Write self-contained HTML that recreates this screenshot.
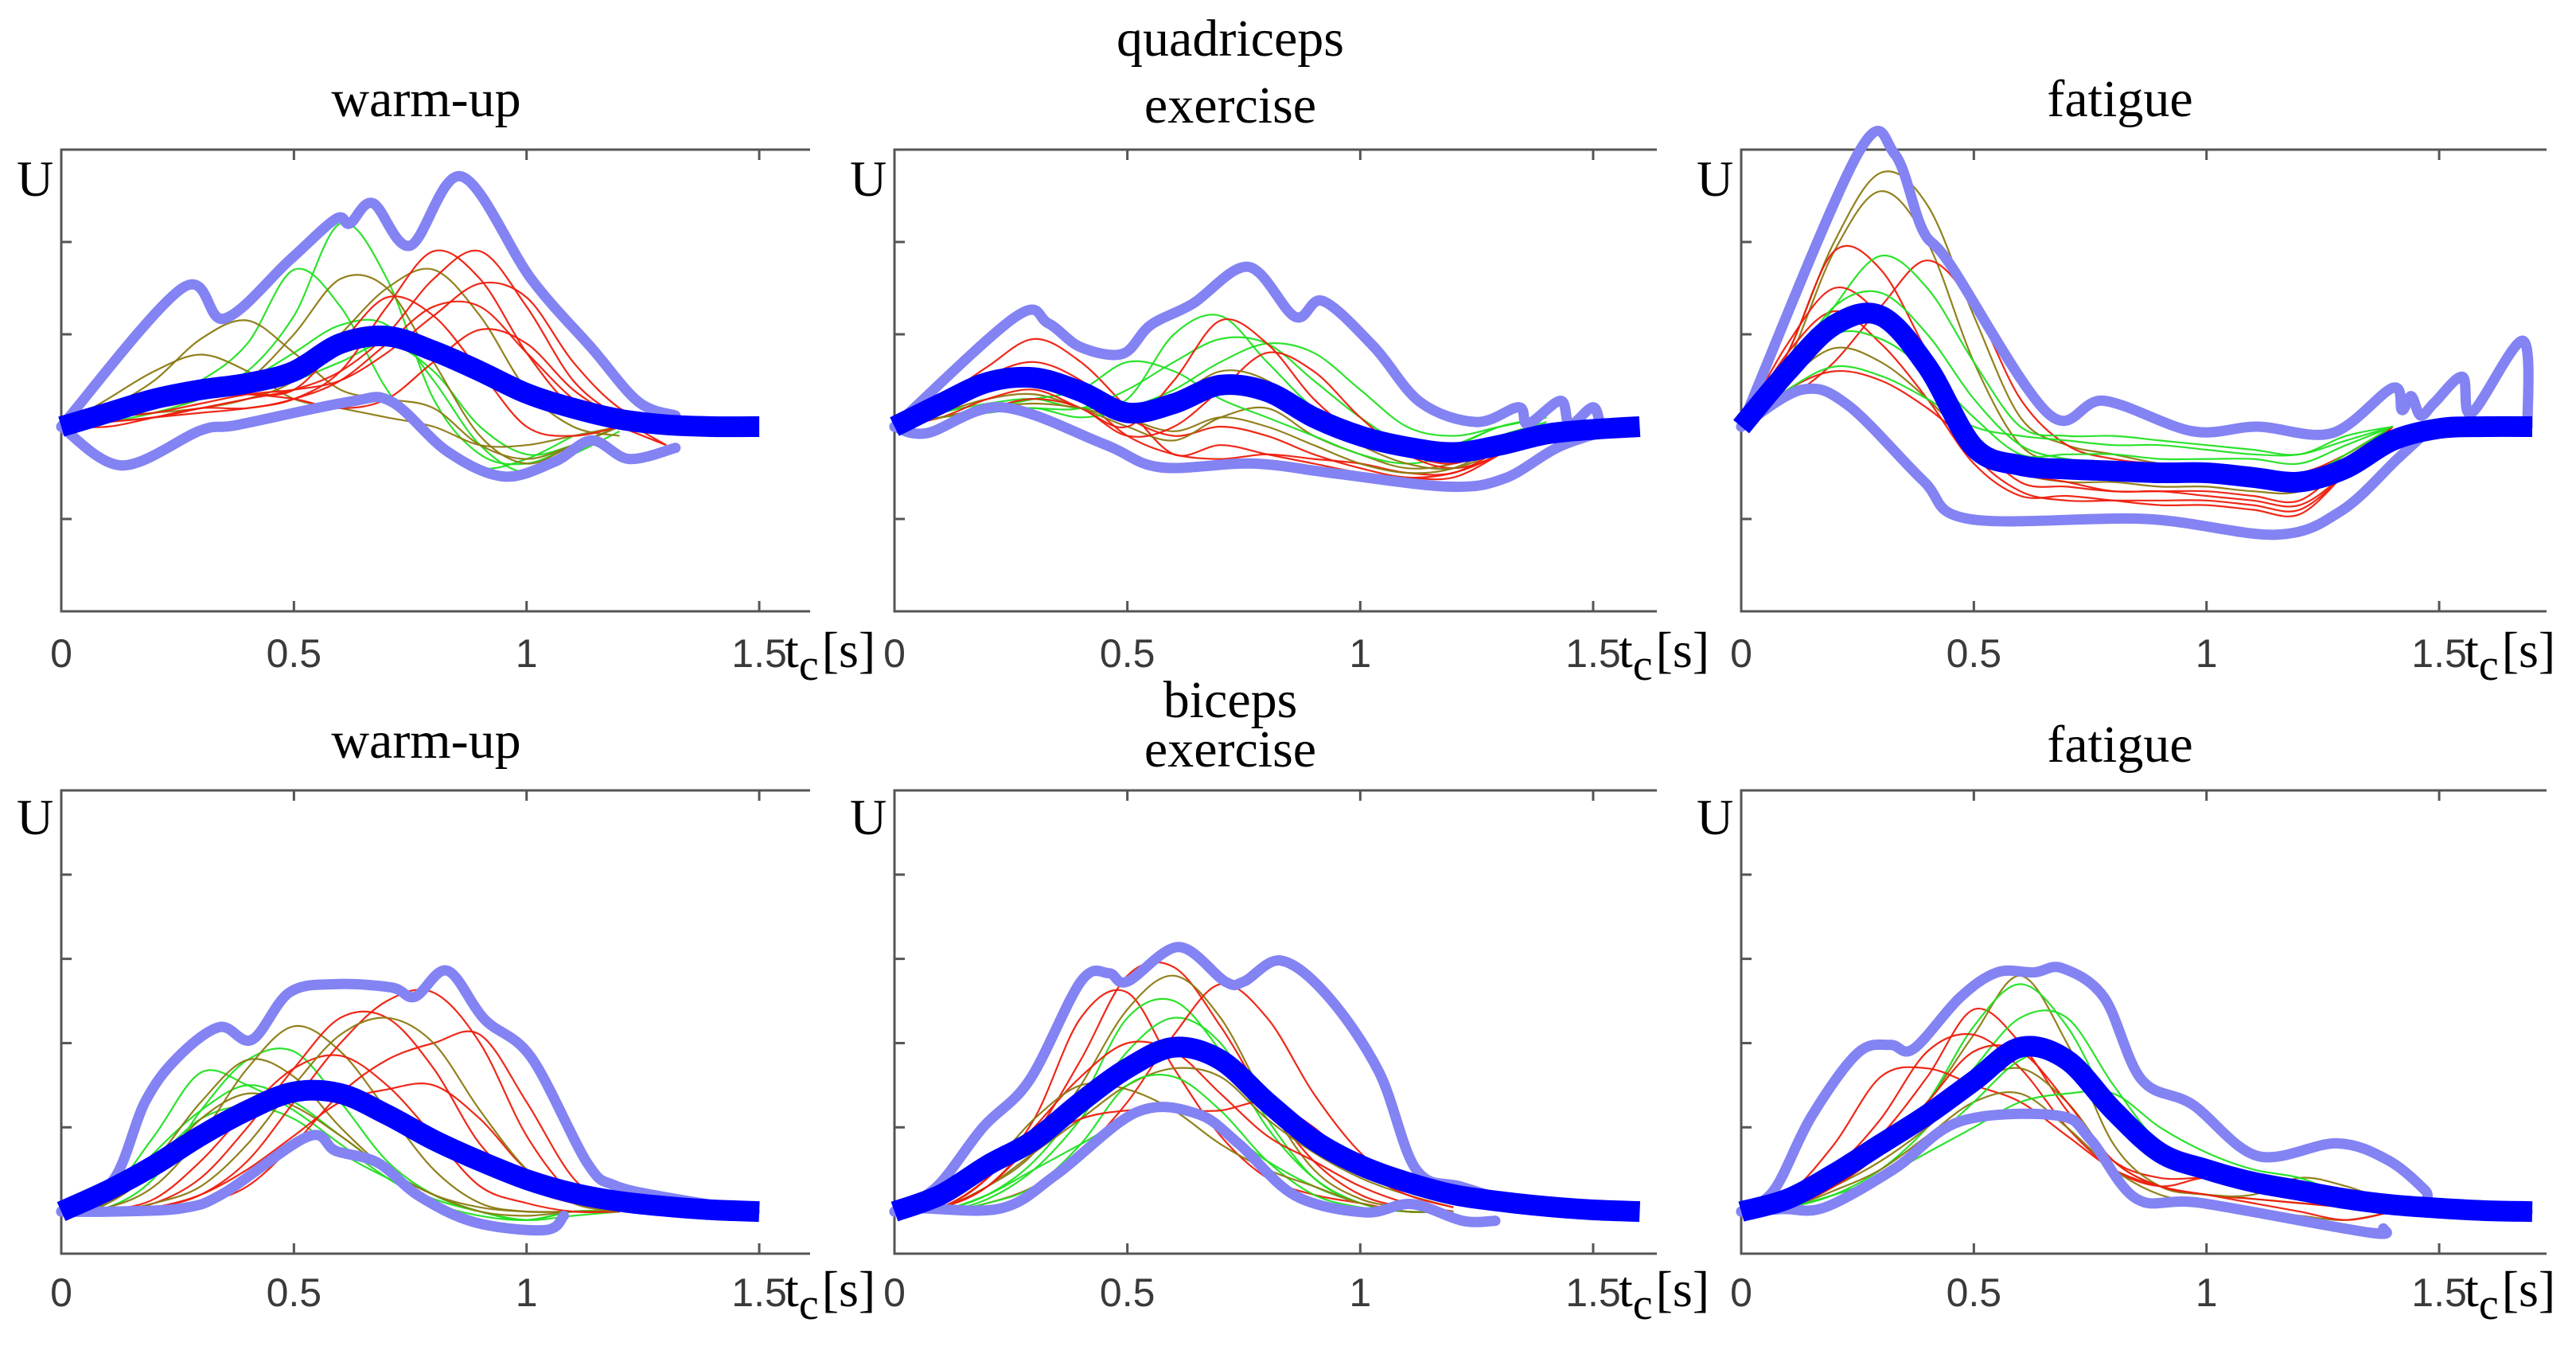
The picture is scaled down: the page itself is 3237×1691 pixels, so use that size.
<!DOCTYPE html>
<html><head><meta charset="utf-8"><style>
html,body{margin:0;padding:0;background:#fff;}
svg{display:block;}
.ttl{font-family:"Liberation Serif",serif;font-size:66px;fill:#000;text-anchor:middle;}
.tick{font-family:"Liberation Sans",sans-serif;font-size:50px;fill:#3a3a3a;text-anchor:middle;}
.ser{font-family:"Liberation Serif",serif;font-size:64px;fill:#000;}
</style></head><body>
<svg id="fig" width="3237" height="1691" viewBox="0 0 3237 1691" xmlns="http://www.w3.org/2000/svg">
<text class="ttl" x="1546" y="70">quadriceps</text>
<text class="ttl" x="1546" y="901">biceps</text>
</svg>
<script>
// ---------- data (time in s, amplitude in tick units) ----------
const panelTitles = ["warm-up","exercise","fatigue","warm-up","exercise","fatigue"];
const xTickLabels = ["0","0.5","1","1.5"];
const xTickValues = [0,0.5,1,1.5];
const yTicksTop = [-1,0,1,2];
const yTicksBottom = [1,2,3,4];
const gridStep = 0.1;

// Panel 1: quadriceps warm-up
const p1Mean = [0,.15,.3,.4,.47,.6,.9,.98,.82,.6,.36,.2,.08,.02,0,0];
const p1UpT = [0,.26,.35,.49,.59,.62,.67,.75,.86,1.01,1.14,1.24,1.32];
const p1UpY = [0,1.5,1.17,1.8,2.25,2.2,2.42,1.96,2.71,1.6,.85,.27,.12];
const p1LoT = [0,.13,.3,.38,.62,.71,.83,.95,1.06,1.14,1.22,1.32];
const p1LoY = [0,-.42,-.04,.02,.27,.27,-.27,-.54,-.38,-.15,-.35,-.23];
const p1Thin = [
 [0,.1,.2,.35,.6,1.2,2.2,1.6,.3,-.3,-.4,-.2,0],
 [0,.1,.3,.5,.9,1.7,1.3,.4,-.2,-.45,-.35,-.1],
 [0,.05,.15,.3,.5,.8,1.1,1.1,.5,-.2,-.5,-.3,-.05],
 [0,.1,.2,.3,.4,.5,.7,.9,.6,0,-.3,-.2,0],
 [0,.3,.6,.78,.6,.3,.2,.1,0,-.2,-.2,-.1,0],
 [0,.2,.5,.95,1.15,.8,.4,.3,.2,-.2,-.35,-.2,0],
 [0,.1,.2,.3,.5,1.0,1.6,1.5,.7,-.1,-.4,-.2,0],
 [0,.1,.15,.2,.3,.5,1.0,1.5,1.7,1.2,.4,0,-.1],
 [0,.05,.1,.15,.2,.3,.6,1.3,1.9,1.6,.8,.2,0,-.2],
 [0,.05,.1,.2,.3,.4,.6,1.0,1.6,1.9,1.3,.5,.1,-.2],
 [0,.1,.15,.25,.35,.4,.5,.8,1.2,1.55,1.4,.7,.2,0],
 [0,.1,.2,.35,.35,.3,.2,.3,.7,1.05,.9,.4,.1,0],
 [0,.15,.3,.35,.35,.4,.9,1.4,1.2,.6,0,-.1,0],
 [0,0,.1,.2,.2,.3,.5,.9,1.3,1.3,.8,.3,0]
];
const p1Col = ["g","g","g","g","o","o","o","o","r","r","r","r","r","r"];

// Panel 2: quadriceps exercise
const p2Mean = [0,.25,.48,.53,.38,.15,.25,.45,.38,.1,-.1,-.22,-.28,-.2,-.08,-.03,0];
const p2UpT = [0,.26,.33,.4,.49,.55,.64,.76,.86,.92,1.03,1.13,1.25,1.34,1.36,1.43,1.45,1.5,1.52,1.56];
const p2UpY = [0,1.19,1.12,.86,.79,1.1,1.33,1.73,1.19,1.36,.86,.26,.05,.21,.03,.28,.02,.21,.0,0];
const p2LoT = [0,.07,.23,.45,.57,.77,.95,1.19,1.31,1.43,1.56];
const p2LoY = [0,-.07,.21,-.19,-.44,-.4,-.51,-.65,-.56,-.21,0];
const p2Thin = [
 [0,.3,.65,.95,.7,.2,-.3,-.2,-.3,-.4,-.5,-.55,-.55,-.3,0],
 [0,.25,.55,.7,.5,.1,-.1,0,-.1,-.3,-.45,-.55,-.5,-.3,0],
 [0,.2,.4,.45,.3,-.1,-.3,-.35,-.3,-.35,-.4,-.5,-.5,-.25,0],
 [0,.2,.4,.5,.35,.1,-.05,.1,0,-.2,-.4,-.5,-.45,-.2,0],
 [0,.15,.3,.35,.2,0,-.15,.1,.2,-.1,-.3,-.45,-.4,-.2,0],
 [0,.15,.25,.3,.2,.3,1.0,1.2,.7,.2,-.1,-.3,-.2,0,.1],
 [0,.1,.2,.2,.2,.4,.7,.95,.9,.5,.1,-.2,-.2,0,.1],
 [0,.1,.15,.2,.1,.2,.4,.7,.9,.8,.4,0,-.1,0,.1],
 [0,.1,.2,.3,.4,.7,.6,.3,.1,-.1,-.3,-.4,-.3,-.1,.05],
 [0,.1,.3,.4,.2,0,.5,1.15,.9,.3,-.1,-.3,-.4,-.2,0],
 [0,.1,.2,.3,.2,-.1,0,.4,.8,.6,.1,-.3,-.45,-.3,0],
 [0,.1,.2,.25,.2,.1,.3,.6,.5,.1,-.2,-.4,-.45,-.25,0]
];
const p2Col = ["r","r","r","o","o","g","g","g","g","r","r","o"];

// Panel 3: quadriceps fatigue
const p3Mean = [0,.6,1.1,1.2,.65,-.22,-.42,-.46,-.48,-.5,-.5,-.55,-.6,-.45,-.15,-.02,0,0];
const p3UpT = [0,.25,.33,.39,.45,.66,.78,.97,1.11,1.27,1.4,1.42,1.44,1.46,1.49,1.55,1.57,1.68,1.69];
const p3UpY = [0,2.95,2.95,2.13,1.75,.14,.28,-.05,0,-.07,.42,.18,.33,.12,.26,.54,.15,.93,0];
const p3LoT = [0,.13,.23,.39,.49,.87,1.15,1.29,1.41,1.47];
const p3LoY = [0,.4,.23,-.58,-1.0,-1.0,-1.17,-.91,-.35,-.07];
const p3Thin = [
 [0,.8,2.0,2.75,2.4,1.2,.1,-.2,-.3,-.4,-.45,-.5,-.6,-.3,0],
 [0,.7,1.9,2.55,2.0,.7,-.2,-.4,-.5,-.55,-.6,-.6,-.7,-.4,0],
 [0,.8,1.9,1.7,.8,-.1,-.6,-.65,-.7,-.7,-.7,-.75,-.8,-.4,0],
 [0,.3,.7,1.3,1.8,1.3,.3,-.2,-.35,-.4,-.4,-.45,-.5,-.3,0],
 [0,.5,1.3,1.85,1.5,.7,0,-.1,-.1,-.15,-.2,-.25,-.3,-.1,0],
 [0,.9,1.5,1.2,.5,-.3,-.7,-.8,-.8,-.8,-.8,-.85,-.9,-.5,0],
 [0,.8,1.25,.9,.3,-.4,-.75,-.75,-.8,-.85,-.85,-.9,-.95,-.5,0],
 [0,.6,1.3,1.45,1.0,.3,-.2,-.35,-.4,-.45,-.45,-.5,-.55,-.3,0],
 [0,.5,1.0,.95,.6,.1,-.3,-.3,-.3,-.35,-.35,-.35,-.4,-.2,0],
 [0,.5,.85,.7,.3,-.2,-.5,-.6,-.6,-.65,-.65,-.7,-.7,-.4,0],
 [0,.4,.6,.5,.2,-.2,-.5,-.6,-.7,-.7,-.75,-.8,-.85,-.5,0],
 [0,.4,.65,.55,.3,0,-.1,-.15,-.2,-.2,-.25,-.3,-.3,-.15,0]
];
const p3Col = ["o","o","r","r","g","r","r","g","g","o","r","g"];

// Panel 4: biceps warm-up
const p4Mean = [0,.25,.55,.9,1.2,1.42,1.4,1.15,.85,.6,.38,.22,.12,.06,.02,0];
const p4UpT = [0,.11,.18,.25,.34,.41,.49,.59,.71,.76,.83,.91,1.01,1.13,1.19,1.31,1.49];
const p4UpY = [0,.36,1.3,1.83,2.19,2.04,2.6,2.7,2.66,2.55,2.86,2.28,1.83,.58,.31,.16,0];
const p4LoT = [0,.11,.26,.35,.53,.59,.68,.77,.89,1.04,1.08];
const p4LoY = [0,0,.04,.22,.89,.72,.58,.18,-.13,-.22,-.05];
const p4Thin = [
 [0,.05,.4,1.2,1.8,1.9,1.3,.6,.2,0,-.1,-.05,0],
 [0,.2,.9,1.65,1.5,1.2,.8,.4,.1,-.05,-.1,0,0],
 [0,.1,.7,1.2,1.5,1.3,.9,.5,.2,0,-.1,0,0],
 [0,.1,.6,1.1,1.25,1.1,.7,.4,.15,0,-.1,0,0],
 [0,.05,.3,.9,1.7,2.2,1.9,1.2,.5,.1,0,0,0],
 [0,.1,.6,1.3,1.8,1.6,1.0,.5,.2,0,-.05,0,0],
 [0,.1,.5,1.1,1.4,1.25,.9,.5,.2,.05,0,0,0],
 [0,0,.05,.2,.6,1.3,2.0,2.5,2.6,2.0,.9,.2,0],
 [0,0,.05,.1,.3,.8,1.4,1.8,2.0,2.1,1.3,.4,0],
 [0,.02,.1,.4,1.0,1.7,2.3,2.3,1.7,.8,.3,.1,0],
 [0,0,.05,.2,.5,.9,1.3,1.45,1.5,1.1,.5,.2,0],
 [0,.02,.15,.6,1.2,1.7,1.85,1.5,.9,.3,.1,0,0],
 [0,0,.1,.3,.8,1.5,2.1,2.3,2.0,1.2,.5,.1,0]
];
const p4Col = ["g","g","g","g","o","o","o","r","r","r","r","r","o"];

// Panel 5: biceps exercise
const p5Mean = [0,.2,.55,.85,1.3,1.7,1.95,1.8,1.3,.85,.55,.35,.2,.12,.06,.02,0];
const p5UpT = [0,.09,.19,.29,.4,.46,.5,.61,.71,.75,.83,.93,1.04,1.12,1.22,1.37,1.56];
const p5UpY = [0,.29,1.0,1.56,2.73,2.83,2.73,3.14,2.73,2.73,2.98,2.56,1.66,.5,.29,.07,0];
const p5LoT = [0,.05,.23,.35,.52,.65,.74,.86,1.01,1.11,1.22,1.29];
const p5LoY = [0,.04,.04,.45,1.18,1.16,.8,.19,-.01,.09,-.11,-.11];
const p5Thin = [
 [0,.05,.4,1.1,2.3,2.6,1.7,.9,.4,.2,.1,0,0],
 [0,.05,.3,.9,1.8,2.8,2.9,2.2,1.3,.6,.2,.05,0],
 [0,.05,.3,.7,1.5,2.4,2.8,2.3,1.3,.5,.15,.05,0],
 [0,.02,.2,.6,1.3,2.3,2.5,1.9,1.0,.4,.1,0,0],
 [0,0,.15,.5,1.1,1.9,2.3,2.0,1.1,.4,.1,0,0],
 [0,0,.1,.3,.7,1.3,2.1,2.7,2.3,1.4,.7,.3,.1],
 [0,.05,.4,1.0,1.6,2.0,1.9,1.4,.9,.6,.3,.1,0],
 [0,.05,.3,.7,1.1,1.5,1.7,1.6,1.1,.7,.4,.2,.05],
 [0,0,.1,.3,.8,1.5,1.6,1.2,.6,.2,.05,0,0],
 [0,.02,.2,.5,.8,1.1,1.2,1.0,.6,.3,.1,0,0],
 [0,.05,.3,.8,1.1,1.2,1.2,1.2,1.3,1.0,.5,.2,.05],
 [0,.1,.5,1.1,1.5,1.45,1.2,.8,.5,.3,.1,0,0]
];
const p5Col = ["r","r","o","g","g","r","r","o","g","g","r","o"];

// Panel 6: biceps fatigue
const p6Mean = [0,.15,.45,.8,1.15,1.55,1.95,1.8,1.2,.7,.5,.35,.25,.15,.08,.04,.01,0];
const p6UpT = [0,.07,.15,.25,.32,.37,.47,.55,.63,.69,.78,.86,.97,1.11,1.28,1.39,1.47,1.49,1.69];
const p6UpY = [0,.25,1.12,1.88,1.98,1.93,2.54,2.84,2.84,2.89,2.54,1.57,1.27,.66,.81,.61,.25,.05,0];
const p6LoT = [0,.09,.18,.33,.47,.68,.75,.85,.99,1.35,1.38];
const p6LoY = [0,.03,.05,.51,1.07,1.14,.86,.15,.1,-.25,-.2];
const p6Thin = [
 [0,.1,.4,.9,1.6,2.4,2.0,1.2,.6,.4,.4,.35,.3,.15,.05],
 [0,.05,.3,.7,1.3,2.1,2.8,2.0,.8,.3,.2,.15,.1,.05,0],
 [0,.05,.3,.7,1.3,2.2,2.7,2.2,1.2,.6,.4,.3,.2,.1,0],
 [0,.05,.2,.5,1.0,1.7,2.3,2.3,1.5,.8,.5,.35,.25,.15,.05],
 [0,.2,.8,1.6,1.7,1.5,1.3,.9,.5,.3,.2,.15,.1,.05,0],
 [0,.1,.5,1.1,1.9,2.1,1.7,1.0,.5,.3,.4,.3,.2,.1,0],
 [0,.05,.3,.6,1.0,1.5,1.7,1.3,.6,.3,.2,.2,.4,.3,.1],
 [0,.05,.25,.5,.9,1.3,1.4,1.0,.5,.2,.1,0,-.05,-.1,0],
 [0,.05,.2,.4,.8,1.3,1.8,1.9,1.3,.8,.6,.4,.3,.2,.1],
 [0,.05,.3,.7,1.3,1.9,1.9,1.3,.6,.3,.2,.1,0,-.1,0],
 [0,.05,.2,.4,.7,1.0,1.3,1.4,1.4,1.0,.7,.5,.4,.2,.1]
];
const p6Col = ["r","o","g","g","r","r","o","o","g","r","g"];

// ---------- layout ----------
const cols = [{x0:77,pps:584.7,right:1018},{x0:1124,pps:585.3,right:2082},{x0:2188,pps:584.7,right:3200}];
const rows = [{top:188,bottom:768,ymin:-2,ymax:3,titleY:146,labY:838,uY:246},
              {top:993,bottom:1575,ymin:-0.5,ymax:5,titleY:952,labY:1641,uY:1048}];
const titleYOverride = {1:154, 4:963, 3:952, 5:957, 2:146};
const colorMap = {r:"#ee1c0c", o:"#8c7a12", g:"#22e022"};

const svg = document.getElementById('fig');
const NS = "http://www.w3.org/2000/svg";
function mk(tag, attrs){ const e=document.createElementNS(NS,tag); for(const k in attrs) e.setAttribute(k,attrs[k]); return e; }

function smoothPath(pts){
  if(pts.length<2) return "";
  let d = "M"+pts[0][0].toFixed(1)+","+pts[0][1].toFixed(1);
  for(let i=0;i<pts.length-1;i++){
    const p0=pts[Math.max(0,i-1)], p1=pts[i], p2=pts[i+1], p3=pts[Math.min(pts.length-1,i+2)];
    const c1x=p1[0]+(p2[0]-p0[0])/6, c1y=p1[1]+(p2[1]-p0[1])/6;
    const c2x=p2[0]-(p3[0]-p1[0])/6, c2y=p2[1]-(p3[1]-p1[1])/6;
    d+=" C"+c1x.toFixed(1)+","+c1y.toFixed(1)+" "+c2x.toFixed(1)+","+c2y.toFixed(1)+" "+p2[0].toFixed(1)+","+p2[1].toFixed(1);
  }
  return d;
}

const panels = [
 {mean:p1Mean,upT:p1UpT,upY:p1UpY,loT:p1LoT,loY:p1LoY,thin:p1Thin,col:p1Col},
 {mean:p2Mean,upT:p2UpT,upY:p2UpY,loT:p2LoT,loY:p2LoY,thin:p2Thin,col:p2Col},
 {mean:p3Mean,upT:p3UpT,upY:p3UpY,loT:p3LoT,loY:p3LoY,thin:p3Thin,col:p3Col},
 {mean:p4Mean,upT:p4UpT,upY:p4UpY,loT:p4LoT,loY:p4LoY,thin:p4Thin,col:p4Col},
 {mean:p5Mean,upT:p5UpT,upY:p5UpY,loT:p5LoT,loY:p5LoY,thin:p5Thin,col:p5Col},
 {mean:p6Mean,upT:p6UpT,upY:p6UpY,loT:p6LoT,loY:p6LoY,thin:p6Thin,col:p6Col}
];

panels.forEach((P,idx)=>{
  const C = cols[idx%3], R = rows[Math.floor(idx/3)];
  const xs = t => C.x0 + t*C.pps;
  const ys = v => R.bottom - (v-R.ymin)/(R.ymax-R.ymin)*(R.bottom-R.top);
  const g = mk('g',{});
  
  
  svg.appendChild(g);

  const tt = mk('text',{class:'ttl',x:(C.x0+C.right)/2+ (idx%3===0?-12:(idx%3===1?-57:-30)),y:titleYOverride[idx]!==undefined?titleYOverride[idx]:R.titleY});
  tt.textContent = panelTitles[idx];
  
  
  g.appendChild(tt);

  const ax = mk('path',{d:`M${C.right},${R.top} H${C.x0} V${R.bottom} H${C.right}`,fill:'none',stroke:'#555',"stroke-width":3});
  
  
  g.appendChild(ax);
  xTickValues.forEach((v,i)=>{
    const x = xs(v);
    if(v>0){
      const t1 = mk('path',{d:`M${x},${R.bottom} v-13 M${x},${R.top} v13`,stroke:'#555',"stroke-width":3});
      
      
      g.appendChild(t1);
    }
    const lab = mk('text',{class:'tick',x:x,y:R.labY});
    lab.textContent = xTickLabels[i];
    
    
    g.appendChild(lab);
  });
  (idx<3?yTicksTop:yTicksBottom).forEach(v=>{
    const y = ys(v);
    const t2 = mk('path',{d:`M${C.x0},${y} h13`,stroke:'#555',"stroke-width":3});
    
    
    g.appendChild(t2);
  });
  const u = mk('text',{class:'ser',x:C.x0-56,y:R.uY,"font-size":68});
  u.textContent = "U";
  
  
  g.appendChild(u);
  const xt = mk('text',{class:'ser',x:xs(1.5)+32,y:R.labY});
  
  
  const s1=mk('tspan',{}); s1.textContent="t";
  const s2=mk('tspan',{dy:16,"font-size":56}); s2.textContent="c";
  const s3=mk('tspan',{dy:-16,dx:4}); s3.textContent="[s]";
  xt.appendChild(s1); xt.appendChild(s2); xt.appendChild(s3);
  g.appendChild(xt);

  P.thin.forEach((arr,k)=>{
    const pts = arr.map((v,i)=>[xs(i*gridStep), ys(v)]);
    const p = mk('path',{d:smoothPath(pts),fill:'none',stroke:colorMap[P.col[k]],"stroke-width":2.2,opacity:0.95});
    
    
    g.appendChild(p);
  });
  [[P.upT,P.upY,'upper-envelope'],[P.loT,P.loY,'lower-envelope']].forEach(([T,Y,name])=>{
    const pts = T.map((t,i)=>[xs(t), ys(Y[i])]);
    const p = mk('path',{d:smoothPath(pts),fill:'none',stroke:'#8383f3',"stroke-width":13,"stroke-linejoin":'round',"stroke-linecap":'round'});
    
    
    g.appendChild(p);
  });
  const mpts = P.mean.map((v,i)=>[xs(i*gridStep), ys(v)]);
  const mp = mk('path',{d:smoothPath(mpts),fill:'none',stroke:'#0000ff',"stroke-width":26,"stroke-linejoin":'round'});
  
  
  g.appendChild(mp);
});
</script>
</body></html>
